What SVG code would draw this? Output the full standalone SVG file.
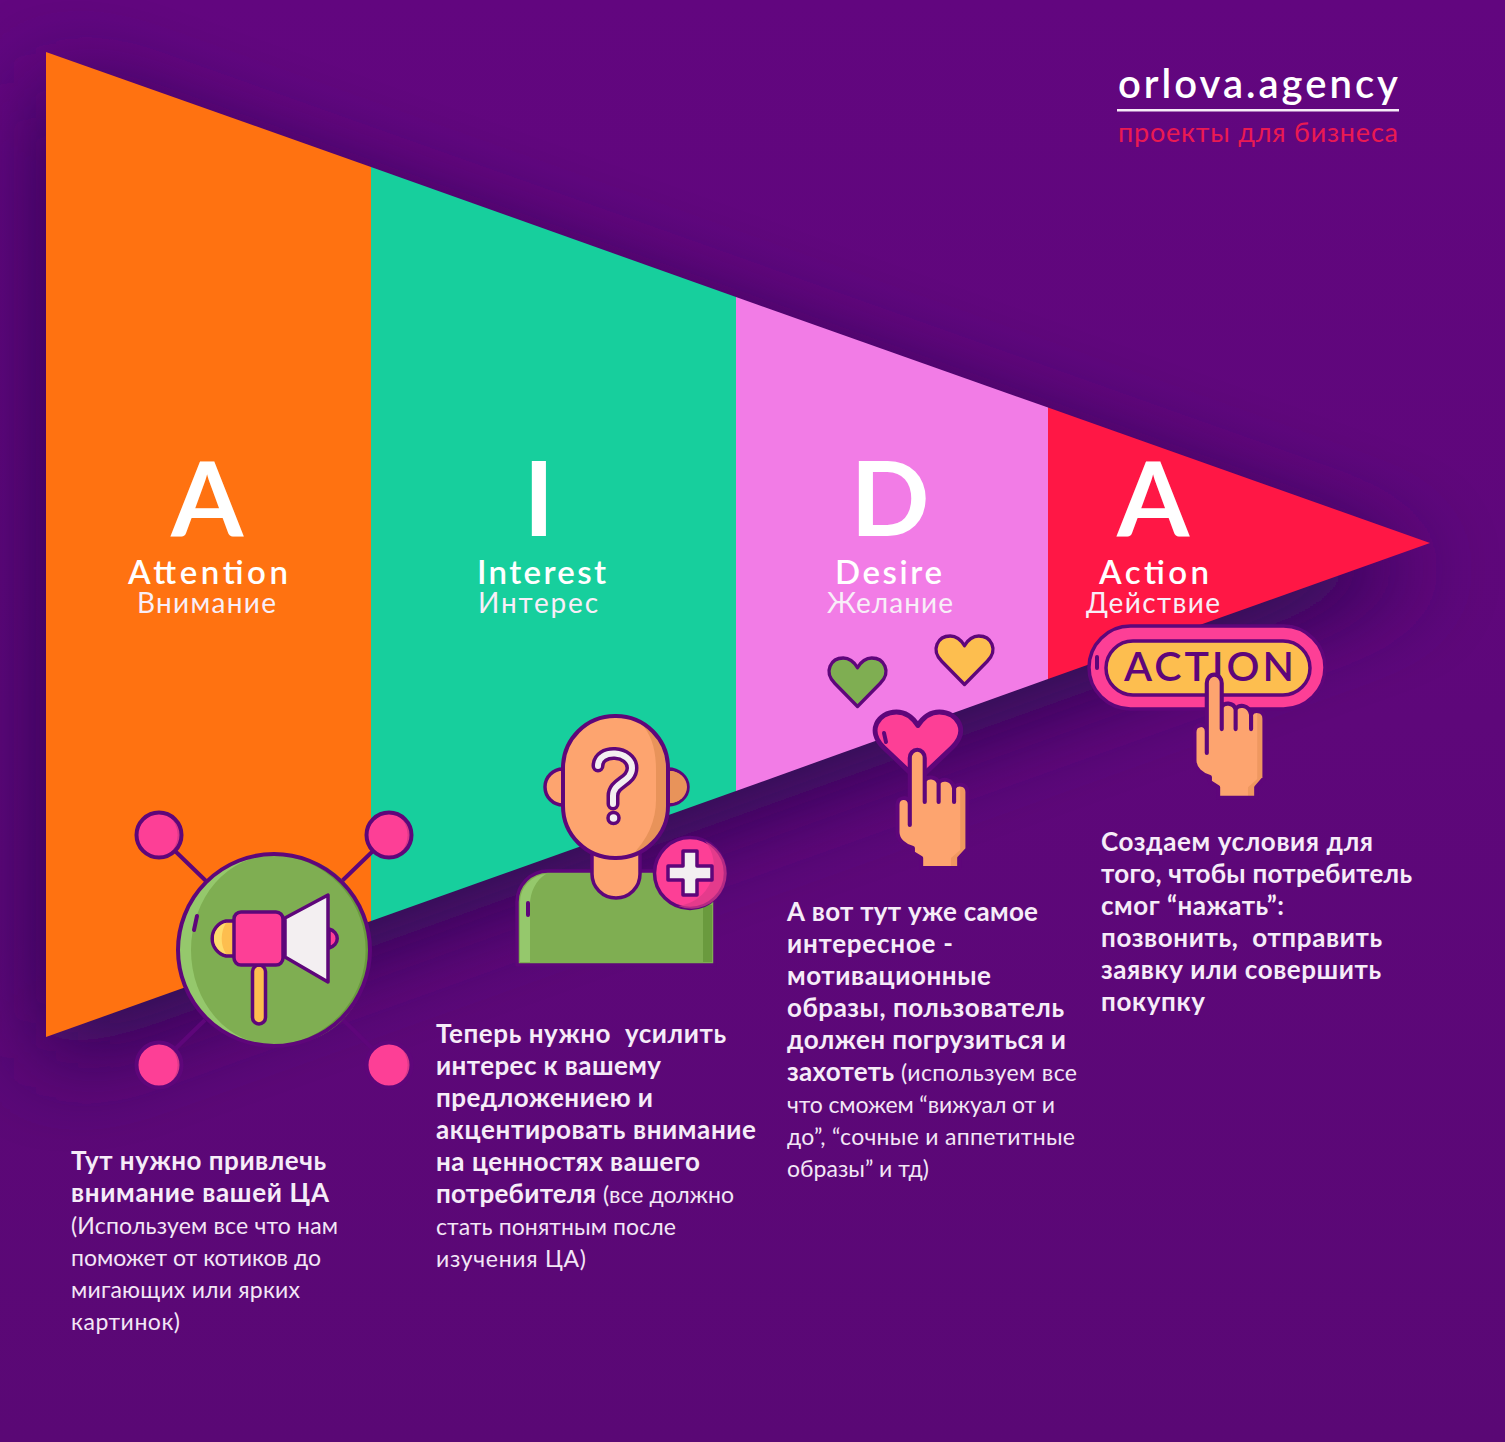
<svg xmlns="http://www.w3.org/2000/svg" width="1505" height="1442" viewBox="0 0 1505 1442">
<style>
text{font-family:Lato,"Open Sans","Noto Sans",sans-serif;fill:#fff;white-space:pre}
.b{font-size:26px;font-weight:700;fill:#f6ecf8}
.r{font-size:23px;font-weight:400;fill:#f3e6f6}
.big{font-size:104px;font-weight:700;text-anchor:middle}
.en{font-size:33px;font-weight:600;fill:#fff}
.ru{font-size:28px;font-weight:400;fill:#f8eef8}
.o{stroke:#5e067a;stroke-width:3.5;stroke-linejoin:round;stroke-linecap:round}
.ln{fill:none;stroke:#5e067a;stroke-width:4;stroke-linecap:round;stroke-linejoin:round}
.pk{fill:#fd3f96}.pd{fill:#d83a88}.gr{fill:#7fae52}.gd{fill:#6a9a3e}.gl{fill:#95c86c}.ye{fill:#fdbe4f}.yl{fill:#fedb6c}.sk{fill:#fda46f}.sd{fill:#e8935a}.wh{fill:#f3eff1}
</style>
<defs>
<linearGradient id="bg" x1="0" y1="0" x2="0" y2="1"><stop offset="0" stop-color="#62067f"/><stop offset="1" stop-color="#5a0875"/></linearGradient>
<filter id="sh" x="-15%" y="-15%" width="130%" height="135%"><feGaussianBlur stdDeviation="48"/></filter>
<path id="heart" d="M30,50 L6,26 C-6,14 2,0 15,0 C22,0 27,5 30,10 C33,5 38,0 45,0 C58,0 66,14 54,26 Z"/>
<g id="dot">
<circle class="pk" r="22"/>
<path class="pd" d="M8,-20.500 A22,22 0 0 1 8,20.500 A25,25 0 0 0 8,-20.500 Z"/>
<circle r="22.500" fill="none" stroke="#5e067a" stroke-width="4"/>
</g>
<g id="hand">
<path class="sk" d="M-7,8 A7,8 0 0 1 7.500,8 L7.500,31 C9,26 19,26 21,33 C23,28 34,28 36,38 C38,33 49,33 49,42 L49,99 L41,108 L41,118 L4,118 L4,108 L-4,103 L-4,98 C-12,96 -19,90 -19,82 L-19,55 C-19,46 -7,46 -7,54 Z"/>
<path class="sd" d="M41,118 L41,108 L49,99 L49,42 C49,36 44,35 42,36 L42,100 L33,108 L33,118 Z" opacity=".7"/>
<path class="ln" d="M-7,8 A7,8 0 0 1 7.500,8 L7.500,31 C9,26 19,26 21,33 C23,28 34,28 36,38 C38,33 49,33 49,42 L49,99 L41,108 L41,118 L4,118 L4,108 L-4,103 L-4,98 C-12,96 -19,90 -19,82 L-19,55 C-19,46 -7,46 -7,54 M-7,8 L-7,75 M7.500,31 L7.500,52 M21,33 L21,52 M36,38 L36,52"/>
</g>
</defs>
<rect width="1505" height="1442" fill="url(#bg)"/>
<path d="M46,52 L1430,543 L46,1037 Z" fill="#2c0a50" filter="url(#sh)" transform="translate(0,26)"/>

<g id="funnel">
<path id="seg-attention" d="M46,52 L371,167 L371,921 L46,1037 Z" fill="#ff7211"/>
<path id="seg-interest" d="M371,167 L736,297 L736,791 L371,921 Z" fill="#17cf9d"/>
<path id="seg-desire" d="M736,297 L1048,407.500 L1048,679 L736,791 Z" fill="#f27ce6"/>
<path id="seg-action" d="M1048,407.500 L1430,543 L1048,679 Z" fill="#ff1745"/>
</g>

<g id="logo">
<text x="1118" y="98" font-size="40" font-weight="600" textLength="280">orlova.agency</text>
<rect x="1117" y="109" width="282" height="2.500" fill="#f6ecf8"/>
<text x="1118" y="142" font-size="27" style="fill:#ea1a52" textLength="280">проекты для бизнеса</text>
</g>

<g id="node-attention">
<text class="big" x="207" y="536">A</text>
<text class="en" x="128" y="584" textLength="160">Attention</text>
<text class="ru" x="137" y="613" textLength="139">Внимание</text>
<g id="icon-megaphone">
<path class="ln" d="M174,850 L205,880 M374,850 L343,880"/>
<path d="M174,1050 L205,1020 M374,1050 L343,1020" fill="none" stroke="#5e067a" stroke-width="4"/>
<use href="#dot" x="159" y="835"/><use href="#dot" x="389" y="835"/><use href="#dot" x="159" y="1065"/><use href="#dot" x="389" y="1065"/>
<circle class="gr" cx="274" cy="950" r="95"/>
<path class="gl" d="M274,855 A95,95 0 0 0 274,1045 A83,95 0 0 1 274,855 Z"/>
<path class="gd" d="M290,857 A95,95 0 0 1 290,1043 A80,93 0 0 0 290,857 Z"/>
<circle cx="274" cy="950" r="96" fill="none" stroke="#5e067a" stroke-width="4"/>
<path class="ln" d="M197,916 L194,930"/>
<path class="ye o" d="M235,921 L226,921 A18,18 0 0 0 226,956 L235,956 Z"/>
<path class="yl" d="M226,923 A16,16 0 0 0 226,954 A30,30 0 0 1 226,923 Z"/>
<path class="pk o" d="M329,929 A12,10 0 0 1 329,948 Z"/>
<rect class="ye o" x="252.500" y="965" width="13" height="59" rx="6.500"/>
<path class="wh o" d="M285,918 L328,895 L328,982 L285,957 Z"/>
<rect class="pk o" x="234" y="912" width="49" height="53" rx="7"/>
</g>
</g>

<g id="node-interest">
<text class="big" x="539" y="536">I</text>
<text class="en" x="477" y="584" textLength="129">Interest</text>
<text class="ru" x="478" y="613" textLength="120">Интерес</text>
<g id="icon-person">
<path class="gr o" d="M517,965 L517,902 A31,31 0 0 1 548,871 L715,871 L715,965 Z"/>
<path class="gl" d="M520,962 L520,902 A28,28 0 0 1 546,874 C536,880 530,892 530,905 L530,962 Z"/>
<rect class="gd" x="703" y="905" width="9" height="57"/>
<path class="ln" d="M528,903 L528,915"/>
<path class="sk o" d="M592,845 L592,874 A24,24 0 0 0 640,874 L640,845 Z"/>
<path class="sk o" d="M563,769 A18,18 0 0 0 563,805 Z"/>
<path class="sk o" d="M668,769 A20,18 0 0 1 668,805 Z"/>
<path class="sd" d="M670,771 A17,16 0 0 1 670,803 Z"/>
<rect class="sk" x="563" y="716" width="105" height="142" rx="52"/>
<path class="sd" d="M640,722 C652,728 666,745 666,770 L666,805 C666,830 650,850 630,857 C648,840 656,820 656,800 L656,770 C656,750 652,735 640,722 Z"/>
<rect x="563" y="716" width="105" height="142" rx="52" fill="none" stroke="#5e067a" stroke-width="4"/>
<path d="M598,766 C598,748 632,750 632,768 C632,782 613,782 613,796 L613,804" fill="none" stroke="#5e067a" stroke-width="13" stroke-linecap="round" stroke-linejoin="round"/>
<path d="M598,766 C598,748 632,750 632,768 C632,782 613,782 613,796 L613,804" fill="none" stroke="#f3eff1" stroke-width="6" stroke-linecap="round" stroke-linejoin="round"/>
<circle class="wh o" cx="613.500" cy="818" r="5.500"/>
<circle class="pk o" cx="690" cy="873" r="35.500"/>
<path class="pd" d="M705,841 A35,35 0 0 1 678,906 A40,40 0 0 0 705,841 Z" opacity=".7"/>
<path class="wh" d="M683,851 L697,851 L697,866 L712,866 L712,880 L697,880 L697,895 L683,895 L683,880 L668,880 L668,866 L683,866 Z" stroke="#5e067a" stroke-width="3.500" stroke-linejoin="round"/>
</g>
</g>

<g id="node-desire">
<text class="big" x="890" y="536">D</text>
<text class="en" x="835" y="584" textLength="107">Desire</text>
<text class="ru" x="827" y="613" textLength="126">Желание</text>
<g id="icon-hearts">
<use href="#heart" class="gr o" transform="translate(829,658) scale(.95,.97)"/>
<use href="#heart" class="ye o" transform="translate(936,636) scale(.95,.97)"/>
<use href="#heart" class="pk o" transform="translate(875,712) scale(1.430,1.360)"/>
<path class="ln" d="M884,733 L886,742"/>
<use href="#hand" transform="translate(917,750) scale(1.030,1)"/>
</g>
</g>

<g id="node-action">
<text class="big" x="1153" y="536">A</text>
<text class="en" x="1099" y="584" textLength="110">Action</text>
<text class="ru" x="1086" y="613" textLength="134">Действие</text>
<g id="icon-action">
<rect class="pk o" x="1089" y="626" width="236" height="83" rx="41.500"/>
<rect class="ye o" x="1106" y="641" width="204" height="54" rx="27"/>
<path class="ln" d="M1097,657 L1097,668"/>
<text x="1124" y="681" font-size="41" font-weight="600" style="fill:#5e067a" textLength="170">ACTION</text>
<use href="#hand" transform="translate(1214,675) scale(1.030,1.040)"/>
</g>
</g>

<g id="text-attention">
<text class="b" x="71" y="1170" textLength="255">Тут нужно привлечь</text>
<text class="b" x="71" y="1202" textLength="258">внимание вашей ЦА</text>
<text class="r" x="71" y="1234" textLength="267">(Используем все что нам</text>
<text class="r" x="71" y="1266" textLength="250">поможет от котиков до</text>
<text class="r" x="71" y="1298" textLength="229">мигающих или ярких</text>
<text class="r" x="71" y="1330" textLength="109">картинок)</text>
</g>
<g id="text-interest">
<text class="b" x="436" y="1043" textLength="290">Теперь нужно  усилить</text>
<text class="b" x="436" y="1075" textLength="225">интерес к вашему</text>
<text class="b" x="436" y="1107" textLength="217">предложениею и</text>
<text class="b" x="436" y="1139" textLength="320">акцентировать внимание</text>
<text class="b" x="436" y="1171" textLength="264">на ценностях вашего</text>
<text y="1203"><tspan class="b" x="436" textLength="160">потребителя</tspan><tspan class="r" x="603" textLength="131">(все должно</tspan></text>
<text class="r" x="436" y="1235" textLength="240">стать понятным после</text>
<text class="r" x="436" y="1267" textLength="150">изучения ЦА)</text>
</g>
<g id="text-desire">
<text class="b" x="787" y="921" textLength="251">А вот тут уже самое</text>
<text class="b" x="787" y="953" textLength="166">интересное -</text>
<text class="b" x="787" y="985" textLength="204">мотивационные</text>
<text class="b" x="787" y="1017" textLength="277">образы, пользователь</text>
<text class="b" x="787" y="1049" textLength="279">должен погрузиться и</text>
<text y="1081"><tspan class="b" x="787" textLength="107">захотеть</tspan><tspan class="r" x="901" textLength="176">(используем все</tspan></text>
<text class="r" x="787" y="1113" textLength="268">что сможем “вижуал от и</text>
<text class="r" x="787" y="1145" textLength="288">до”, “сочные и аппетитные</text>
<text class="r" x="787" y="1177" textLength="142">образы” и тд)</text>
</g>
<g id="text-action">
<text class="b" x="1101" y="851" textLength="272">Создаем условия для</text>
<text class="b" x="1101" y="883" textLength="311">того, чтобы потребитель</text>
<text class="b" x="1101" y="915" textLength="183">смог “нажать”:</text>
<text class="b" x="1101" y="947" textLength="281">позвонить,  отправить</text>
<text class="b" x="1101" y="979" textLength="280">заявку или совершить</text>
<text class="b" x="1101" y="1011" textLength="104">покупку</text>
</g>
</svg>
